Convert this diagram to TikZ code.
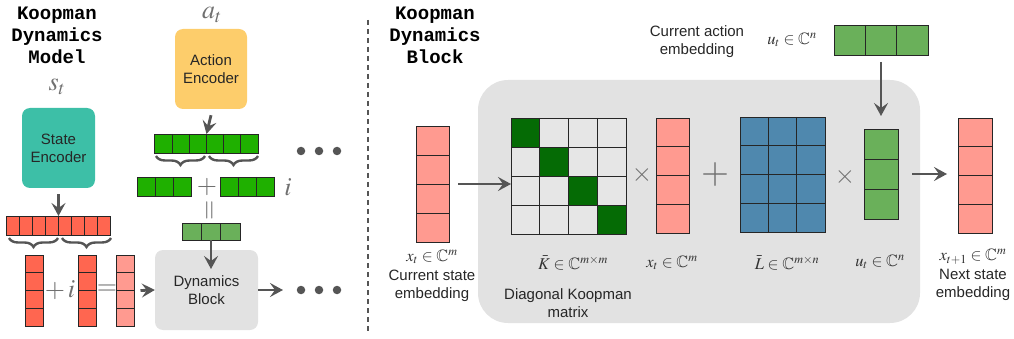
\documentclass[tikz,border=0pt]{standalone}
\usepackage{mathptmx}
\usepackage{amssymb}
\usepackage{fontspec}
\setsansfont{Liberation Sans}
\setmonofont{Liberation Mono}
\usetikzlibrary{arrows.meta,decorations.pathreplacing,calc}
\definecolor{teal1}{HTML}{3DBFA7}
\definecolor{yel1}{HTML}{FDCD6B}
\definecolor{tom}{HTML}{FF6650}
\definecolor{pink1}{HTML}{FF9A90}
\definecolor{grn1}{HTML}{1FB000}
\definecolor{lgrn}{HTML}{6AB05A}
\definecolor{dgrn}{HTML}{056B05}
\definecolor{blu1}{HTML}{4F88AE}
\definecolor{boxgray}{HTML}{E2E2E2}
\definecolor{cellgray}{HTML}{E6E6E6}
\definecolor{arrgray}{HTML}{555555}
\definecolor{txtgray}{HTML}{707070}
\tikzset{
  cellbox/.style={draw=black!85,line width=0.9pt,inner sep=0pt,outer sep=0pt},
  cellline/.style={draw=black!85,line width=0.9pt},
  encbox/.style={rounded corners=8pt,inner sep=0pt,minimum width=73pt,minimum height=80pt,align=center,font=\sffamily\fontsize{15}{18}\selectfont,text=black!85},
  lab/.style={font=\sffamily\fontsize{15}{18}\selectfont,align=center,text=black!85,inner sep=0pt},
  mlab/.style={font=\fontsize{16.5}{18}\selectfont,text=black!80,inner sep=0pt},
  big/.style={font=\fontsize{26}{28}\selectfont,text=txtgray,inner sep=0pt},
  ttl/.style={font=\ttfamily\bfseries\fontsize{19}{22}\selectfont,align=center,inner sep=0pt},
  arr/.style={draw=arrgray,line width=2.8pt,-{Stealth[length=13pt,width=14pt,inset=5pt]}},
  brc/.style={draw=arrgray,line width=2.4pt,decorate,decoration={brace,mirror,amplitude=9pt}},
  dot/.style={circle,fill=arrgray,inner sep=0pt,minimum size=8.5pt}
}
\newcommand\hvecbox[7]{% name cx cy cellw cellh n color
  \node[cellbox,fill=#7,minimum width={#4*#6},minimum height=#5] (#1) at (#2,#3) {};
  \pgfmathtruncatemacro\nmk{#6-1}
  \foreach \k in {1,...,\nmk} {
    \draw[cellline] ({#2-#4*#6/2+\k*#4},{#3-#5/2}) -- ++(0,#5);
  }
}
\newcommand\vvecbox[7]{% name cx cy cellw cellh n color
  \node[cellbox,fill=#7,minimum width=#4,minimum height={#5*#6}] (#1) at (#2,#3) {};
  \pgfmathtruncatemacro\nmk{#6-1}
  \foreach \k in {1,...,\nmk} {
    \draw[cellline] ({#2-#4/2},{#3-#5*#6/2+\k*#5}) -- ++(#4,0);
  }
}
\begin{document}
\begin{tikzpicture}[x=1pt,y=-1pt]
\useasboundingbox (0,0) rectangle (1014,339);
% ---------- left panel ----------
\node[ttl] (t1) at (57,35) {Koopman\\Dynamics\\Model};
\node[big] (st) at (57,87) {$s_t$};
\node[big] (at) at (212,15) {$a_t$};
\node[encbox,fill=teal1] (senc) at (58.5,148) {State\\Encoder};
\node[encbox,fill=yel1,minimum width=72pt] (aenc) at (211,69) {Action\\Encoder};
% state branch
\hvecbox{red8}{58.5}{225.5}{12.9}{19}{8}{tom}
\draw[arr] (senc.south) ++(0,6) coordinate (sa) (sa) -- (red8.north);
\draw[brc] (9,238) -- (58,238);
\draw[brc] (62,238) -- (111,238);
\vvecbox{v1}{34}{290.5}{18}{17.75}{4}{tom}
\vvecbox{v2}{87.5}{290.5}{18}{17.75}{4}{tom}
\vvecbox{v3}{125.5}{290.5}{18}{17.75}{4}{pink1}
\node[big] (pi) at (60,290) {$+\,i$};
\node[big] (eq1) at (107,290) {$=$};
\node[encbox,fill=boxgray,minimum width=103pt,minimum height=80pt] (db) at (206.5,290) {Dynamics\\Block};
\draw[arr] (v3.east) ++(6,0) coordinate (va) (va) -- (db.west);
\coordinate (dbout) at (283,290);
\draw[arr] (db.east) -- (dbout);
\node[dot] (d1) at (301,290) {};
\node[dot] (d2) at (319,290) {};
\node[dot] (d3) at (337,290) {};
% action branch
\hvecbox{g6}{206.5}{143.5}{17.2}{19}{6}{grn1}
\draw[arr] (aenc.south) ++(0,6) coordinate (aa) (aa) -- (g6.north);
\draw[brc] (156,156) -- (205,156);
\draw[brc] (209,156) -- (258,156);
\hvecbox{g3a}{164.5}{186.5}{18.2}{19}{3}{grn1}
\hvecbox{g3b}{247.5}{186.5}{18.2}{19}{3}{grn1}
\node[big] (pl2) at (207,187) {$+$};
\node[big] (ii) at (288,187) {$i$};
\node[big,rotate=90] (eq2) at (211,210) {$=$};
\hvecbox{lg3}{211}{231.5}{19.3}{17}{3}{lgrn}
\coordinate (dbin) at (211,269);
\draw[arr] (lg3.south) -- (dbin);
\node[dot] (d4) at (301,151) {};
\node[dot] (d5) at (319,151) {};
\node[dot] (d6) at (337,151) {};
% separator
\draw[arrgray,line width=2.5pt,dash pattern=on 5pt off 4pt] (368,20) -- (368,334);
% ---------- right panel ----------
\node[ttl] (t2) at (435,35) {Koopman\\Dynamics\\Block};
\node[fill=boxgray,rounded corners=30pt,minimum width=442pt,minimum height=243pt,inner sep=0pt] (kb) at (699,201.5) {};
\vvecbox{xt1}{432.5}{184}{33}{29}{4}{pink1}
\node[mlab] (xl1) at (432,257) {$x_t\in\mathbb{C}^m$};
\node[lab] (xl1b) at (432,286) {Current state\\embedding};
% K matrix
\node[cellbox,fill=cellgray,minimum width=115pt,minimum height=116pt] (K) at (568.5,176) {};
\foreach \r in {0,...,3} {
  \fill[dgrn] ({511+\r*28.75},{118+\r*29}) rectangle ++(28.75,29);
}
\foreach \k in {1,2,3} {
  \draw[cellline] ({511+\k*28.75},118) -- ++(0,116);
  \draw[cellline] (511,{118+\k*29}) -- ++(115,0);
}
\draw[cellline] (511,118) rectangle (626,234);
\draw[arr] (xt1.east) ++(9,0) coordinate (xa) (xa) -- (K.west |- xa);
\node[mlab] (kl) at (573,263) {$\bar{K}\in\mathbb{C}^{m\times m}$};
\node[lab] (kl2) at (568,303) {Diagonal Koopman\\matrix};
\node[big] (tm1) at (642,175) {$\times$};
\vvecbox{xt2}{672.5}{175.5}{33}{28.75}{4}{pink1}
\node[mlab] (xl2) at (672,263) {$x_t\in\mathbb{C}^m$};
\node[font=\fontsize{36}{38}\selectfont,text=txtgray,inner sep=0pt] (pl3) at (715,175) {$+$};
% L matrix
\node[cellbox,fill=blu1,minimum width=85pt,minimum height=115pt] (L) at (782.5,174.5) {};
\foreach \k in {1,2} { \draw[cellline] ({740+\k*28.33},117) -- ++(0,115); }
\foreach \k in {1,2,3} { \draw[cellline] (740,{117+\k*28.75}) -- ++(85,0); }
\node[mlab] (ll) at (787,263) {$\bar{L}\in\mathbb{C}^{m\times n}$};
\node[big] (tm2) at (845,177) {$\times$};
\vvecbox{ut}{881}{174}{34}{30}{3}{lgrn}
\node[mlab] (ul) at (880,262) {$u_t\in\mathbb{C}^n$};
\hvecbox{utop}{881}{40}{31.3}{30}{3}{lgrn}
\node[mlab] (ul2) at (792,40) {$u_t\in\mathbb{C}^n$};
\node[lab] (cal) at (697,41.5) {Current action\\embedding};
\coordinate (uin) at (881,116);
\draw[arr] (utop.south) ++(0,7) coordinate (ua) (ua) -- (uin);
\vvecbox{xt3}{975}{175.5}{34}{28.75}{4}{pink1}
\draw[arr] (ut.east) ++(14,0) coordinate (uo) (uo) -- ([xshift=-11pt]xt3.west |- uo);
\node[mlab] (xl3) at (973,257) {$x_{t+1}\in\mathbb{C}^m$};
\node[lab] (xl3b) at (973,285) {Next state\\embedding};
\end{tikzpicture}
\end{document}
